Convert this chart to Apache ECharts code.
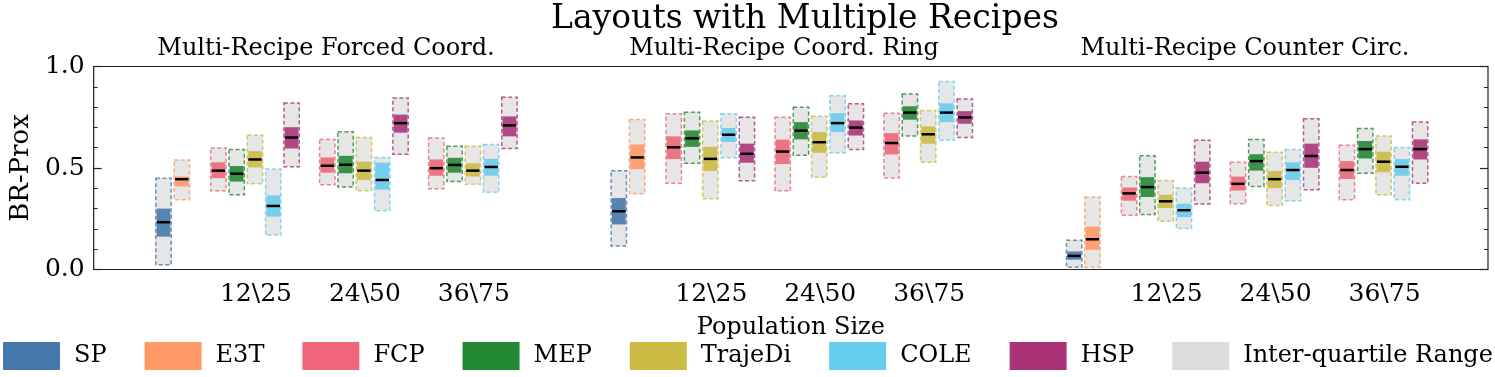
<!DOCTYPE html>
<html>
<head>
<meta charset="utf-8">
<script src="https://cdn.jsdelivr.net/npm/echarts@6/dist/echarts.min.js"></script>
<style>
  html, body { margin: 0; padding: 0; background: #fff; }
  #chart { width: 1495px; height: 377px; }
</style>
</head>
<body>
<div id="chart"></div>
<script>
// panels and groups
const panelTitles = ['Multi-Recipe Forced Coord.', 'Multi-Recipe Coord. Ring', 'Multi-Recipe Counter Circ.'];
const groupLabels = ['12\\25', '24\\50', '36\\75'];
const algorithms = ['SP', 'E3T', 'FCP', 'MEP', 'TrajeDi', 'COLE', 'HSP'];
const colors = ['#4477AA', '#FF9966', '#EE6677', '#228833', '#CCBB44', '#66CCEE', '#AA3377'];

// each entry: [iqr low, band low, median, band high, iqr high]
// SP / E3T : one per panel
const SP = [
    [0.023, 0.162, 0.233, 0.300, 0.450],
    [0.116, 0.222, 0.287, 0.352, 0.487],
    [0.011, 0.048, 0.067, 0.089, 0.144]
];
const E3T = [
    [0.344, 0.409, 0.445, 0.458, 0.539],
    [0.373, 0.494, 0.552, 0.616, 0.739],
    [0.011, 0.097, 0.149, 0.211, 0.357]
];
// others : panel 1 (12,24,36), panel 2 (12,24,36), panel 3 (12,24,36)
const FCP = [
    [0.388, 0.450, 0.487, 0.528, 0.599], [0.417, 0.477, 0.511, 0.552, 0.641], [0.398, 0.462, 0.499, 0.542, 0.648],
    [0.425, 0.544, 0.602, 0.656, 0.767], [0.388, 0.520, 0.581, 0.640, 0.750], [0.451, 0.567, 0.623, 0.672, 0.770],
    [0.267, 0.339, 0.375, 0.404, 0.458], [0.324, 0.389, 0.422, 0.458, 0.528], [0.344, 0.446, 0.490, 0.534, 0.612]
];
const MEP = [
    [0.368, 0.433, 0.472, 0.510, 0.591], [0.406, 0.474, 0.516, 0.560, 0.679], [0.433, 0.477, 0.515, 0.550, 0.607],
    [0.523, 0.604, 0.646, 0.685, 0.775], [0.563, 0.641, 0.684, 0.726, 0.799], [0.658, 0.738, 0.773, 0.804, 0.864],
    [0.271, 0.357, 0.406, 0.455, 0.560], [0.409, 0.487, 0.534, 0.568, 0.640], [0.474, 0.547, 0.593, 0.633, 0.694]
];
const TrajeDi = [
    [0.422, 0.503, 0.542, 0.583, 0.661], [0.388, 0.441, 0.487, 0.531, 0.650], [0.420, 0.458, 0.487, 0.523, 0.607],
    [0.349, 0.485, 0.545, 0.604, 0.731], [0.455, 0.575, 0.627, 0.677, 0.755], [0.528, 0.620, 0.666, 0.705, 0.783],
    [0.238, 0.303, 0.336, 0.368, 0.438], [0.315, 0.401, 0.445, 0.485, 0.577], [0.368, 0.479, 0.531, 0.580, 0.658]
];
const COLE = [
    [0.170, 0.260, 0.313, 0.365, 0.495], [0.290, 0.393, 0.441, 0.526, 0.552], [0.381, 0.462, 0.505, 0.545, 0.616],
    [0.550, 0.628, 0.664, 0.697, 0.767], [0.575, 0.677, 0.721, 0.770, 0.856], [0.637, 0.726, 0.773, 0.819, 0.926],
    [0.202, 0.258, 0.292, 0.324, 0.401], [0.339, 0.441, 0.490, 0.528, 0.591], [0.344, 0.462, 0.506, 0.544, 0.601]
];
const HSP = [
    [0.506, 0.596, 0.650, 0.701, 0.820], [0.568, 0.674, 0.721, 0.763, 0.845], [0.596, 0.656, 0.710, 0.754, 0.848],
    [0.437, 0.526, 0.570, 0.620, 0.750], [0.591, 0.660, 0.699, 0.734, 0.816], [0.650, 0.718, 0.749, 0.780, 0.840],
    [0.323, 0.425, 0.477, 0.531, 0.637], [0.393, 0.501, 0.559, 0.620, 0.742], [0.425, 0.542, 0.593, 0.641, 0.726]
];
const seriesData = [SP, E3T, FCP, MEP, TrajeDi, COLE, HSP];

// x layout (1 unit = spacing between population groups)
const panelStart = [1.49, 5.67, 9.85];
const slotOffset = [-5, -4, -2, -1, 0, 1, 2];
const slotWidth = 0.168;
const boxWidth = 0.141;
const xMax = 12.8;

const FONT = 'DejaVu Serif';

function rgba(hex, a) {
    const n = parseInt(hex.slice(1), 16);
    return 'rgba(' + (n >> 16) + ',' + ((n >> 8) & 255) + ',' + (n & 255) + ',' + a + ')';
}

function boxRenderer(color) {
    return function (params, api) {
        const x = api.value(0);
        const p1 = api.coord([x - boxWidth / 2, api.value(5)]);
        const p2 = api.coord([x + boxWidth / 2, api.value(1)]);
        const b1 = api.coord([x, api.value(4)]);
        const b2 = api.coord([x, api.value(2)]);
        const m = api.coord([x, api.value(3)]);
        const w = p2[0] - p1[0];
        return {
            type: 'group',
            children: [
                {
                    type: 'rect',
                    shape: {x: p1[0], y: p1[1], width: w, height: p2[1] - p1[1]},
                    style: {fill: 'rgba(221,221,221,0.72)', stroke: rgba(color, 0.8), lineWidth: 1.5, lineDash: [4, 2.5]}
                },
                {
                    type: 'rect',
                    shape: {x: p1[0] + 0.8, y: b1[1], width: w - 1.6, height: b2[1] - b1[1]},
                    style: {fill: rgba(color, 0.88)}
                },
                {
                    type: 'line',
                    shape: {x1: p1[0] + 1, y1: m[1], x2: p2[0] - 1, y2: m[1]},
                    style: {stroke: '#000', lineWidth: 2.5}
                }
            ]
        };
    };
}

const series = algorithms.map((name, a) => {
    const data = [];
    seriesData[a].forEach((v, i) => {
        let p, g;
        if (seriesData[a].length === 3) { p = i; g = 0; } else { p = Math.floor(i / 3); g = i % 3; }
        const x = panelStart[p] + g + slotOffset[a] * slotWidth - 0.009;
        data.push([x].concat(v));
    });
    return {
        name: name,
        type: 'custom',
        renderItem: boxRenderer(colors[a]),
        itemStyle: {color: colors[a]},
        encode: {x: 0, y: [1, 2, 3, 4, 5]},
        data: data
    };
});
series.push({
    name: 'Inter-quartile Range',
    type: 'custom',
    renderItem: () => null,
    itemStyle: {color: '#DDDDDD'},
    data: []
});

const labelValues = [];
panelStart.forEach(s => groupLabels.forEach((l, g) => labelValues.push(+(s + g).toFixed(3))));

const titles = [{
    text: 'Layouts with Multiple Recipes',
    left: 800, top: -2, textAlign: 'center',
    textStyle: {fontFamily: FONT, fontSize: 33, fontWeight: 'normal', color: '#000'}
}];
const subCenters = [321, 779, 1240];
panelTitles.forEach((t, i) => titles.push({
    text: t, left: subCenters[i], top: 32, textAlign: 'center',
    textStyle: {fontFamily: FONT, fontSize: 24, fontWeight: 'normal', color: '#000'}
}));

const chart = echarts.init(document.getElementById('chart'));
chart.setOption({
    animation: false,
    title: titles,
    legend: {
        left: 3, top: 342, padding: 0, width: 1492,
        itemWidth: 57, itemHeight: 28, itemGap: 38,
        icon: 'rect', selectedMode: false,
        textStyle: {fontFamily: FONT, fontSize: 24, color: '#000', padding: [0, 0, 0, 9]},
        data: algorithms.concat(['Inter-quartile Range'])
    },
    grid: {
        left: 80, right: 7, top: 66.5, bottom: 107.5,
        show: true, borderColor: '#222', borderWidth: 1.2
    },
    xAxis: {
        type: 'value', min: 0, max: xMax,
        name: 'Population Size', nameLocation: 'middle', nameGap: 46,
        nameTextStyle: {fontFamily: FONT, fontSize: 24, color: '#000'},
        axisLine: {show: false},
        axisTick: {show: false},
        splitLine: {show: false},
        axisLabel: {
            customValues: labelValues,
            formatter: v => {
                const i = labelValues.findIndex(t => Math.abs(t - v) < 1e-3);
                return i >= 0 ? groupLabels[i % 3] : '';
            },
            fontFamily: FONT, fontSize: 25, color: '#000', margin: 12
        }
    },
    yAxis: [{
        type: 'value', min: 0, max: 1, interval: 0.5,
        name: 'BR-Prox', nameLocation: 'middle', nameGap: 58,
        nameTextStyle: {fontFamily: FONT, fontSize: 26, color: '#000'},
        axisLine: {show: false},
        axisTick: {inside: true, length: 8, lineStyle: {color: '#222', width: 1.2}},
        minorTick: {show: true, splitNumber: 5, length: 4, lineStyle: {color: '#222', width: 1}},
        splitLine: {show: false},
        axisLabel: {fontFamily: FONT, fontSize: 25, color: '#000', margin: 9, formatter: v => v.toFixed(1)}
    }, {
        type: 'value', min: 0, max: 1, interval: 0.5, position: 'right',
        axisLine: {show: false},
        axisTick: {inside: true, length: 8, lineStyle: {color: '#222', width: 1.2}},
        minorTick: {show: true, splitNumber: 5, length: 4, lineStyle: {color: '#222', width: 1}},
        splitLine: {show: false},
        axisLabel: {show: false}
    }],
    series: series
});
</script>
</body>
</html>
